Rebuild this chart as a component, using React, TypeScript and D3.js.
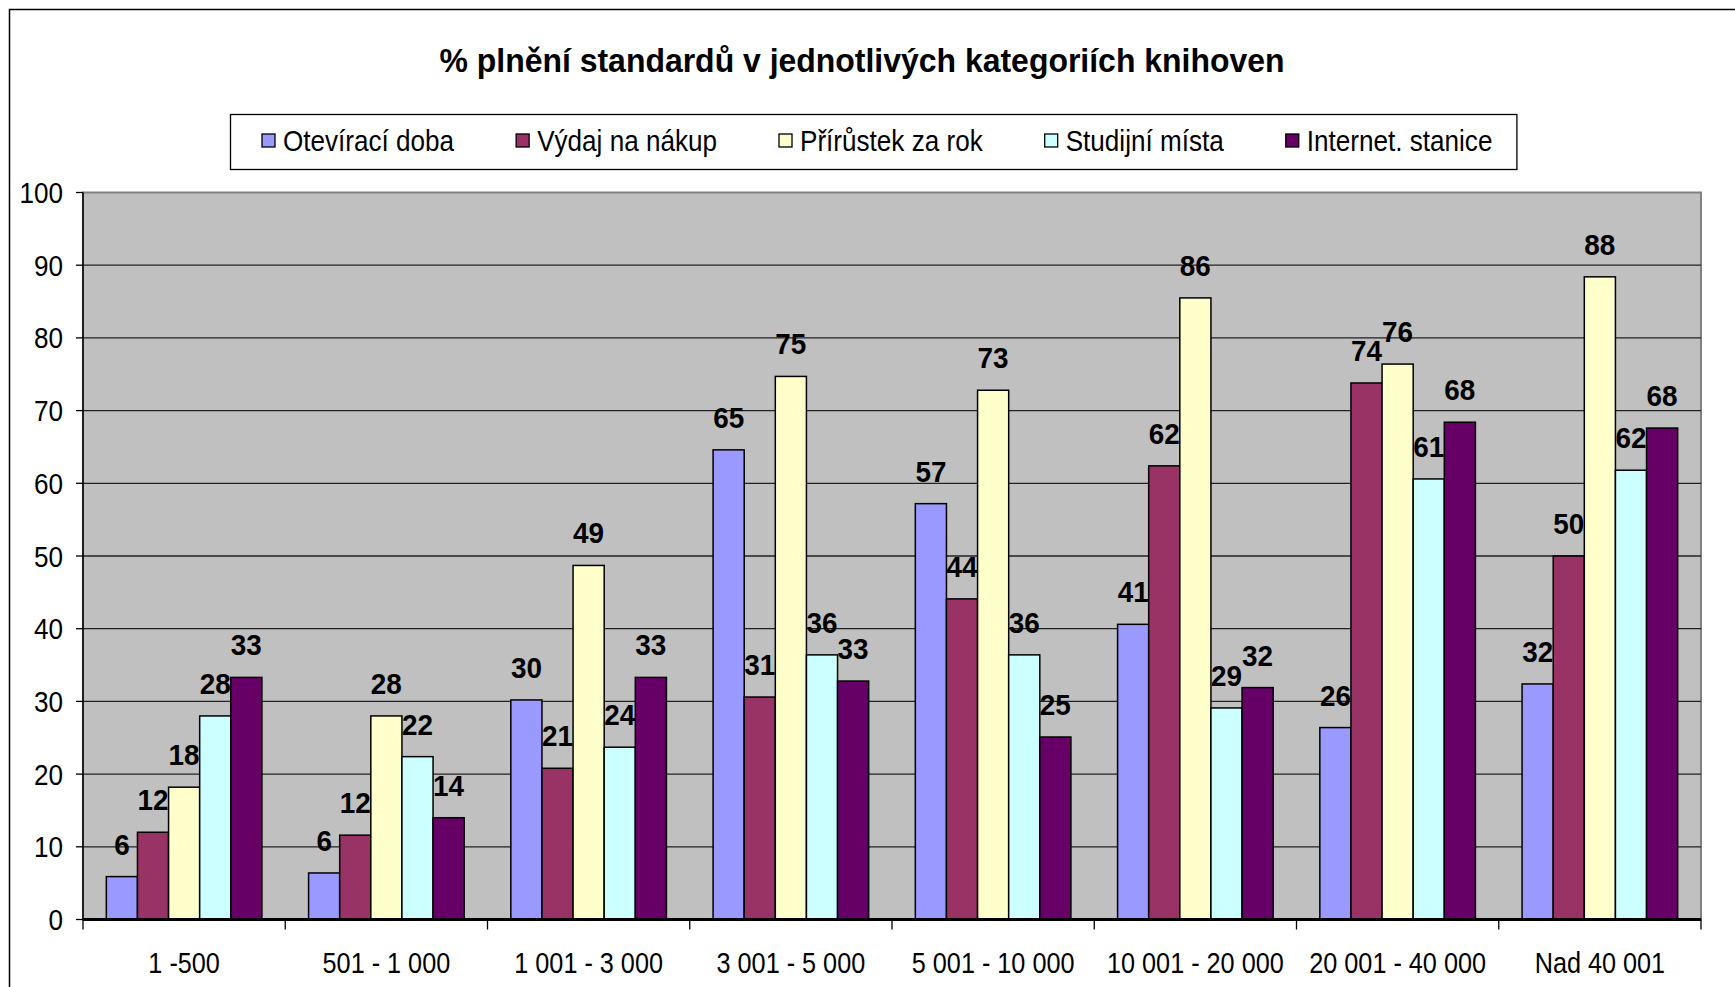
import * as d3 from "d3";
import { useRef, useEffect } from "react";

const categories = [
  "1 -500",
  "501 - 1 000",
  "1 001 - 3 000",
  "3 001 - 5 000",
  "5 001 - 10 000",
  "10 001 - 20 000",
  "20 001 - 40 000",
  "Nad 40 001",
];

const seriesNames = [
  "Otevírací doba",
  "Výdaj na nákup",
  "Přírůstek za rok",
  "Studijní místa",
  "Internet. stanice",
];

const oteviraciDoba = [5.9, 6.4, 30.2, 64.6, 57.2, 40.6, 26.4, 32.4];
const vydajNaNakup = [12, 11.6, 20.8, 30.6, 44.1, 62.4, 73.8, 50];
const prirustekZaRok = [18.2, 28, 48.7, 74.7, 72.8, 85.5, 76.4, 88.4];
const studijniMista = [28, 22.4, 23.7, 36.4, 36.4, 29.1, 60.6, 61.8];
const internetStanice = [33.3, 14, 33.3, 32.8, 25.1, 31.9, 68.4, 67.6];

const yTicks = [0, 10, 20, 30, 40, 50, 60, 70, 80, 90, 100];

const colors = ["#9999FF", "#993366", "#FFFFCC", "#CCFFFF", "#660066"];

const FONT = "'Liberation Sans', Arial, sans-serif";

export default function App() {
  const svgRef = useRef<SVGSVGElement>(null);
  const width = 1735;
  const height = 987;
  const marginLeft = 83;
  const plotRight = 1701;
  const plotTop = 192.5;
  const plotBottom = 919.5;

  useEffect(() => {
    const svg = d3.select(svgRef.current);
    svg.selectAll("*").remove();

    // narrow text: the original uses a condensed face, so squeeze horizontally
    const label = (
      g: d3.Selection<any, any, any, any>,
      tx: number,
      ty: number,
      str: string,
      size: number,
      sx: number,
      anchor = "middle",
      bold = false
    ) =>
      g
        .append("text")
        .attr("transform", `translate(${tx},${ty}) scale(${sx},1)`)
        .attr("text-anchor", anchor)
        .attr("font-family", FONT)
        .attr("font-weight", bold ? "bold" : "normal")
        .attr("font-size", size)
        .attr("fill", "black")
        .text(str);

    const values = [oteviraciDoba, vydajNaNakup, prirustekZaRok, studijniMista, internetStanice];

    const x = d3.scaleBand().domain(categories).range([marginLeft, plotRight]).padding(0);
    const bw = x.bandwidth() / 6.5;
    const xs = d3
      .scaleBand()
      .domain(seriesNames)
      .range([bw * 0.75, x.bandwidth() - bw * 0.75])
      .padding(0);
    const y = d3.scaleLinear().domain([0, 100]).range([plotBottom, plotTop]);

    // chart area frame (runs off the page on right and bottom)
    svg
      .append("rect")
      .attr("x", 9.5)
      .attr("y", 9.5)
      .attr("width", 1760)
      .attr("height", 1000)
      .attr("fill", "white")
      .attr("stroke", "black")
      .attr("stroke-width", 1.5);

    // title
    label(svg, 862, 72, "% plnění standardů v jednotlivých kategoriích knihoven", 34, 0.94, "middle", true);

    // plot background
    svg
      .append("rect")
      .attr("x", marginLeft)
      .attr("y", plotTop)
      .attr("width", plotRight - marginLeft)
      .attr("height", plotBottom - plotTop)
      .attr("fill", "#C0C0C0")
      .attr("stroke", "#808080")
      .attr("stroke-width", 2);

    // gridlines
    svg
      .append("g")
      .selectAll("line")
      .data(yTicks.filter((t) => t > 0 && t < 100))
      .join("line")
      .attr("x1", marginLeft)
      .attr("x2", plotRight)
      .attr("y1", (d) => y(d))
      .attr("y2", (d) => y(d))
      .attr("stroke", "#222")
      .attr("stroke-width", 1.3);

    // y axis
    const gy = svg.append("g");
    gy.append("line")
      .attr("x1", marginLeft)
      .attr("x2", marginLeft)
      .attr("y1", plotTop)
      .attr("y2", plotBottom)
      .attr("stroke", "black")
      .attr("stroke-width", 1.5);
    gy.selectAll("line.tick")
      .data(yTicks)
      .join("line")
      .attr("class", "tick")
      .attr("x1", marginLeft - 7)
      .attr("x2", marginLeft)
      .attr("y1", (d) => y(d))
      .attr("y2", (d) => y(d))
      .attr("stroke", "black")
      .attr("stroke-width", 1.3);
    yTicks.forEach((t) => label(gy, 63, y(t) + 10.5, String(t), 29, 0.9, "end"));

    // bars
    const groups = svg
      .append("g")
      .selectAll("g")
      .data(categories)
      .join("g")
      .attr("transform", (d) => `translate(${x(d)},0)`);

    groups
      .selectAll("rect")
      .data((_, i) => values.map((v, s) => ({ s, v: v[i] })))
      .join("rect")
      .attr("x", (d) => xs(seriesNames[d.s])!)
      .attr("width", xs.bandwidth())
      .attr("y", (d) => y(d.v))
      .attr("height", (d) => y(0) - y(d.v))
      .attr("fill", (d) => colors[d.s])
      .attr("stroke", "black")
      .attr("stroke-width", 1.5);

    groups.each(function (_, i) {
      const g = d3.select(this);
      values.forEach((v, s) => {
        label(
          g,
          xs(seriesNames[s])! + xs.bandwidth() / 2,
          y(v[i]) - 22,
          String(Math.round(v[i])),
          30,
          0.93,
          "middle",
          true
        );
      });
    });

    // x axis
    const gx = svg.append("g").attr("transform", `translate(0,${plotBottom})`);
    const boundaries = categories.map((c) => x(c)!).concat([plotRight]);
    gx.append("line")
      .attr("x1", marginLeft)
      .attr("x2", plotRight)
      .attr("stroke", "black")
      .attr("stroke-width", 3);
    gx.selectAll("line.tick")
      .data(boundaries)
      .join("line")
      .attr("class", "tick")
      .attr("x1", (d) => d)
      .attr("x2", (d) => d)
      .attr("y1", 0)
      .attr("y2", 10)
      .attr("stroke", "black")
      .attr("stroke-width", 1.3);
    categories.forEach((c) => label(gx, x(c)! + x.bandwidth() / 2, 53, c, 29, 0.87, "middle"));

    // legend
    const legend = svg.append("g");
    const box = legend
      .append("rect")
      .attr("x", 230.5)
      .attr("y", 114.5)
      .attr("height", 55)
      .attr("fill", "white")
      .attr("stroke", "black")
      .attr("stroke-width", 1.3);
    let cx = 262;
    seriesNames.forEach((name, i) => {
      legend
        .append("rect")
        .attr("x", cx)
        .attr("y", 134)
        .attr("width", 13)
        .attr("height", 13)
        .attr("fill", colors[i])
        .attr("stroke", "black")
        .attr("stroke-width", 1.3);
      const sx = 0.9;
      const t = label(legend, cx + 21, 151, name, 29, sx, "start");
      const w = (t.node() as SVGTextElement).getComputedTextLength() * sx;
      cx += 21 + w + 62;
    });
    box.attr("width", cx - 62 + 24 - 230);
  }, []);

  return (
    <div style={{ position: "fixed", left: 0, top: 0 }}>
      <svg ref={svgRef} width={width} height={height} style={{ display: "block" }} />
    </div>
  );
}
